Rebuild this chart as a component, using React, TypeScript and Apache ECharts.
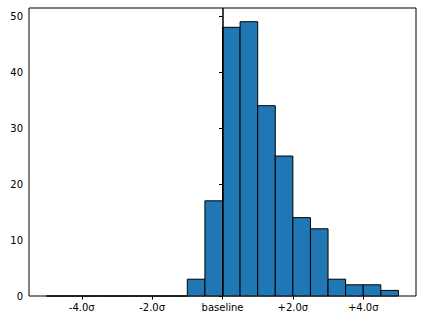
import React, { useEffect, useRef } from "react";
import * as echarts from "echarts";

const binEdges = [-5, -4.5, -4, -3.5, -3, -2.5, -2, -1.5, -1, -0.5, 0, 0.5, 1, 1.5, 2, 2.5, 3, 3.5, 4, 4.5, 5];
const counts = [0, 0, 0, 0, 0, 0, 0, 0, 3, 17, 48, 49, 34, 25, 14, 12, 3, 2, 2, 1];
const xTickValues = [-4, -2, 0, 2, 4];
const xTickLabels = ["-4.0σ", "-2.0σ", "baseline", "+2.0σ", "+4.0σ"];
const yTickValues = [0, 10, 20, 30, 40, 50];
const baselineValue = 0;

export default function App() {
  const ref = useRef<HTMLDivElement>(null);
  useEffect(() => {
    if (!ref.current) return;
    const chart = echarts.init(ref.current, null, { renderer: "svg" });
    const data = counts.map((c, i) => [binEdges[i], binEdges[i + 1], c]);
    const maxCount = Math.max(...counts);
    const xPad = (binEdges[binEdges.length - 1] - binEdges[0]) * 0.05;
    const font = "DejaVu Sans";
    chart.setOption({
      animation: false,
      grid: {
        left: 29,
        right: 7,
        top: 8,
        bottom: 26,
        show: true,
        borderColor: "#000",
        borderWidth: 1,
        backgroundColor: "transparent",
      },
      xAxis: {
        type: "value",
        min: binEdges[0] - xPad,
        max: binEdges[binEdges.length - 1] + xPad,
        axisLine: { show: false },
        splitLine: { show: false },
        axisTick: {
          show: true,
          length: 3.5,
          inside: false,
          customValues: xTickValues,
          lineStyle: { color: "#000", width: 1 },
        },
        axisLabel: {
          customValues: xTickValues,
          margin: 6,
          fontFamily: font,
          fontSize: 10,
          color: "#000",
          formatter: (v: number) => {
            const i = xTickValues.indexOf(v);
            return i >= 0 ? xTickLabels[i] : "";
          },
        },
      },
      yAxis: {
        type: "value",
        min: 0,
        max: maxCount * 1.05,
        axisLine: { show: false },
        splitLine: { show: false },
        axisTick: {
          show: true,
          length: 3.5,
          customValues: yTickValues,
          lineStyle: { color: "#000", width: 1 },
        },
        axisLabel: {
          customValues: yTickValues,
          margin: 6,
          fontFamily: font,
          fontSize: 10,
          color: "#000",
        },
      },
      series: [
        {
          type: "custom",
          data,
          encode: { x: [0, 1], y: 2 },
          renderItem: (params: any, api: any) => {
            const p0 = api.coord([api.value(0), api.value(2)]);
            const p1 = api.coord([api.value(1), 0]);
            return {
              type: "rect",
              shape: { x: p0[0], y: p0[1], width: p1[0] - p0[0], height: p1[1] - p0[1] },
              style: { fill: "#1f77b4", stroke: "#000", lineWidth: 1 },
            };
          },
          markLine: {
            silent: true,
            symbol: "none",
            label: { show: false },
            lineStyle: { color: "#000", width: 1.5, type: "solid" },
            data: [{ xAxis: baselineValue }],
          },
        },
      ],
    });
    return () => chart.dispose();
  }, []);
  return (
    <div
      ref={ref}
      style={{ position: "fixed", left: 0, top: 0, width: 423, height: 322, background: "#fff" }}
    />
  );
}
